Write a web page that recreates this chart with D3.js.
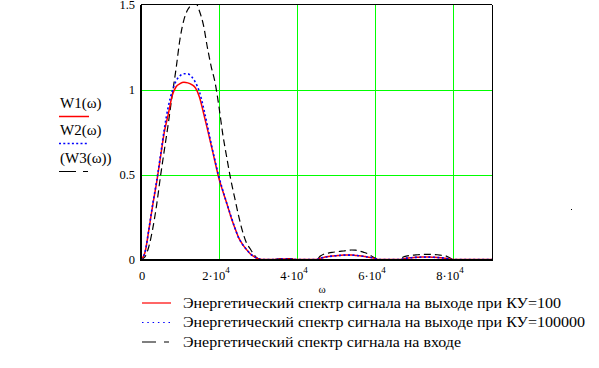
<!DOCTYPE html>
<html><head><meta charset="utf-8">
<script src="https://cdn.jsdelivr.net/npm/d3@7"></script>
<style>
html,body{margin:0;padding:0;background:#fff;}
</style></head>
<body><svg id="c" width="599" height="368" font-family="'Liberation Serif', 'Times New Roman', Times, serif"></svg>
<script>
// omega grid (rad/s)
const omega = d3.range(0, 91).map(k => k * 1000);
// W1: output spectrum, KU=100 (red solid)
const w1 = [0,0.04,0.173,0.319,0.452,0.603,0.752,0.855,0.965,1.016,1.034,1.042,1.039,1.029,1.008,0.955,0.865,0.77,0.672,0.572,0.475,0.40,0.33,0.255,0.19,0.13,0.09,0.06,0.034,0.017,0.005,0,
 0,0,0,0.001,0.003,0.003,0.003,0.001,0,0,0,0,0,0,0.008,0.013,0.017,0.02,0.022,0.024,0.026,0.026,0.026,0.024,0.022,0.019,0.015,0.012,0.006,0,
 0,0,0,0,0,0.002,0.008,0.01,0.012,0.013,0.014,0.014,0.014,0.013,0.012,0.01,0.008,0.003,0,0,0,0,0,0,0,0,0,0,0,0,0];
// W2: output spectrum, KU=100000 (blue dotted)
const w2 = [0,0.04,0.175,0.325,0.46,0.612,0.77,0.9,0.99,1.05,1.08,1.093,1.092,1.075,1.04,0.985,0.895,0.79,0.68,0.58,0.485,0.405,0.33,0.26,0.19,0.13,0.09,0.06,0.034,0.017,0.005,0,
 0,0,0,0.001,0.003,0.003,0.003,0.001,0,0,0,0,0,0,0.008,0.013,0.017,0.02,0.022,0.024,0.026,0.026,0.026,0.024,0.022,0.019,0.015,0.012,0.006,0,
 0,0,0,0,0,0.002,0.008,0.01,0.012,0.013,0.014,0.014,0.014,0.013,0.012,0.01,0.008,0.003,0,0,0,0,0,0,0,0,0,0,0,0,0];
// W3: input spectrum (black dashed)
const w3 = [0,0.015,0.075,0.18,0.32,0.49,0.646,0.80,0.967,1.124,1.297,1.41,1.47,1.50,1.51,1.46,1.38,1.25,1.135,1.04,0.897,0.732,0.599,0.472,0.365,0.26,0.168,0.10,0.063,0.028,0.005,0,
 0,0,0,0.002,0.005,0.006,0.006,0.004,0,0,0,0,0,0,0.02,0.033,0.038,0.042,0.045,0.048,0.05,0.054,0.056,0.055,0.05,0.043,0.035,0.022,0.008,0,
 0,0,0,0,0,0.012,0.02,0.024,0.026,0.028,0.03,0.03,0.03,0.029,0.028,0.025,0.022,0.012,0,0,0,0,0,0,0,0,0,0,0,0,0];
const xTicks = [0, 20000, 40000, 60000, 80000];
const yTicks = [0, 0.5, 1, 1.5];
const yTickLabels = ["0", "0.5", "1", "1.5"];
const legendLeft = ["W1(ω)", "W2(ω)", "(W3(ω))"];
const legendBottom = [
  "Энергетический спектр сигнала на выходе при КУ=100",
  "Энергетический спектр сигнала на выходе при КУ=100000",
  "Энергетический спектр сигнала на входе"
];

const svg = d3.select("#c");
const L = 141, R = 492, T = 4.5, B = 259.5;
const x = d3.scaleLinear().domain([0, 90000]).range([L, R]);
const y = d3.scaleLinear().domain([0, 1.5]).range([B, T]);

svg.append("defs").append("clipPath").attr("id","clip")
  .append("rect").attr("x", L).attr("y", T).attr("width", R-L).attr("height", B-T);

// grid
const grid = svg.append("g").attr("stroke", "#00ff00").attr("stroke-width", 1).attr("shape-rendering","crispEdges");
xTicks.filter(v => v > 0).forEach(v => {
  grid.append("line").attr("x1", Math.round(x(v))+0.5).attr("x2", Math.round(x(v))+0.5).attr("y1", T).attr("y2", B);
});
[0.5, 1].forEach(v => {
  grid.append("line").attr("x1", L).attr("x2", R).attr("y1", Math.round(y(v))+0.5).attr("y2", Math.round(y(v))+0.5);
});

// curves
const line = vals => d3.line().x((d,i) => x(omega[i])).y(d => y(d)).curve(d3.curveMonotoneX)(vals);
const cg = svg.append("g").attr("clip-path", "url(#clip)").attr("fill", "none");
cg.append("path").attr("d", line(w3)).attr("stroke", "#000").attr("stroke-width", 1.2).attr("stroke-dasharray", "7,4");
cg.append("path").attr("d", line(w1)).attr("stroke", "#ff0000").attr("stroke-width", 1.5);
cg.append("path").attr("d", line(w2)).attr("stroke", "#0000ff").attr("stroke-width", 1.6).attr("stroke-dasharray", "2,2.5");

// frame
const fr = svg.append("g").attr("stroke", "#000").attr("shape-rendering","crispEdges");
fr.append("line").attr("x1", L).attr("x2", R).attr("y1", 4.5).attr("y2", 4.5).attr("stroke-width", 1);
fr.append("line").attr("x1", R).attr("x2", R).attr("y1", T).attr("y2", B+1).attr("stroke-width", 1);
fr.append("line").attr("x1", L).attr("x2", L).attr("y1", T).attr("y2", B+1).attr("stroke-width", 1.5);
fr.append("line").attr("x1", L).attr("x2", R).attr("y1", B+0.5).attr("y2", B+0.5).attr("stroke-width", 2);

// y tick labels
yTicks.forEach((v, i) => {
  svg.append("text").attr("x", 135).attr("y", y(v) + 4.5).attr("text-anchor", "end")
    .attr("font-size", 12.5).text(yTickLabels[i]);
});
// x tick labels
xTicks.forEach(v => {
  if (v === 0) {
    svg.append("text").attr("x", x(v) + 1).attr("y", 280).attr("text-anchor", "middle").attr("font-size", 12.5).text("0");
  } else {
    const t = svg.append("text").attr("x", x(v) - 3).attr("y", 280).attr("text-anchor", "middle").attr("font-size", 12.5);
    t.append("tspan").text((v / 10000) + "·10");
    t.append("tspan").attr("dy", -7).attr("font-size", 9).text("4");
  }
});
// axis title
svg.append("text").attr("x", 322).attr("y", 293).attr("text-anchor", "middle").attr("font-size", 11).text("ω");

// left legend
const lc = [{c:"#ff0000", d:null, w:1.5}, {c:"#0000ff", d:"2,2.3", w:1.6}, {c:"#000", d:"17,7,5,20", w:1.2}];
const ly = [108, 135, 163];
legendLeft.forEach((s, i) => {
  svg.append("text").attr("x", 60).attr("y", ly[i]).attr("font-size", 15).text(s);
  svg.append("line").attr("x1", 59).attr("x2", 89).attr("y1", ly[i] + 8.5).attr("y2", ly[i] + 8.5)
    .attr("stroke", lc[i].c).attr("stroke-width", lc[i].w).attr("stroke-dasharray", lc[i].d);
});

// bottom legend
const by = [307.5, 327, 346.5];
const bWidths = [378, 402, 278];
const bc = [{c:"#ff0000", d:null, w:1.2}, {c:"#0000ff", d:"1.5,3.8", w:1.2}, {c:"#000", d:"14,8,5,20", w:1.2}];
legendBottom.forEach((s, i) => {
  svg.append("line").attr("x1", 142).attr("x2", 171).attr("y1", by[i] - 4.5).attr("y2", by[i] - 4.5)
    .attr("stroke", bc[i].c).attr("stroke-width", bc[i].w).attr("stroke-dasharray", bc[i].d);
  svg.append("text").attr("x", 183).attr("y", by[i]).attr("font-size", 14.5)
    .attr("textLength", bWidths[i]).attr("lengthAdjust", "spacingAndGlyphs").text(s);
});

// small stray dot present in the original
svg.append("rect").attr("x", 571).attr("y", 209).attr("width", 1).attr("height", 1).attr("fill", "#000");
</script>
</body></html>
